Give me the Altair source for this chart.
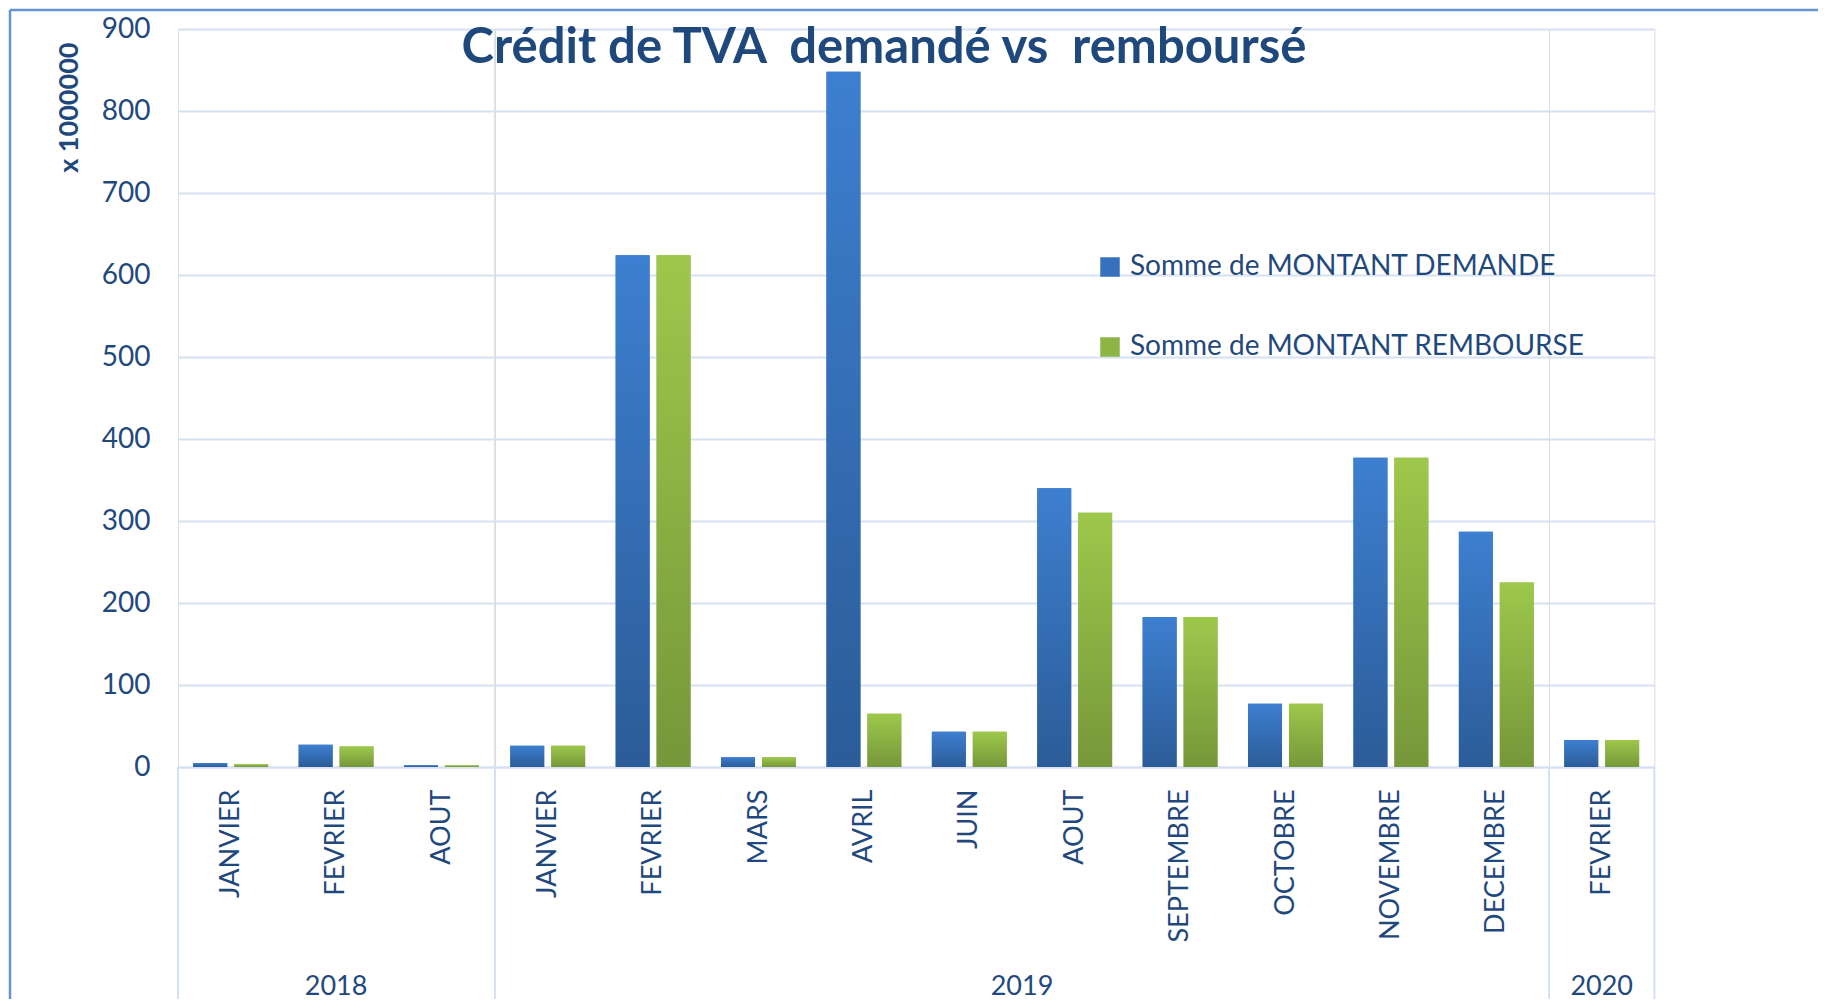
import altair as alt
import pandas as pd

years = ["2018", "2018", "2018",
         "2019", "2019", "2019", "2019", "2019", "2019", "2019", "2019", "2019", "2019",
         "2020"]
months = ["JANVIER", "FEVRIER", "AOUT",
          "JANVIER", "FEVRIER", "MARS", "AVRIL", "JUIN", "AOUT", "SEPTEMBRE", "OCTOBRE", "NOVEMBRE", "DECEMBRE",
          "FEVRIER"]
demande = [5, 27, 2, 26, 624, 12, 848, 43, 340, 183, 77, 377, 287, 33]
rembourse = [3.5, 25, 2, 26, 624, 12, 65, 43, 310, 183, 77, 377, 225, 33]
series = ["Somme de MONTANT DEMANDE", "Somme de MONTANT REMBOURSE"]
month_order = ["JANVIER", "FEVRIER", "MARS", "AVRIL", "MAI", "JUIN", "JUILLET", "AOUT",
               "SEPTEMBRE", "OCTOBRE", "NOVEMBRE", "DECEMBRE"]
y_ticks = [0, 100, 200, 300, 400, 500, 600, 700, 800, 900]

TXT = "#1F497D"
GRID = "#D5E1F2"
FRAME = "#6593CF"
FONT = "Lato"
H = 738
SEP = 232
STEP = 105.4
P_IN, P_OUT = 0.17, 0.373
OFF_STEP = STEP / (2 - P_IN + 2 * P_OUT)
n_last = sum(1 for y in years if y == years[-1])

rows = []
for i, (yr, m) in enumerate(zip(years, months)):
    first = i == 0 or years[i - 1] != yr
    last = i == len(years) - 1
    for s, vals in zip(series, [demande, rembourse]):
        rows.append({"year": yr, "month": m, "series": s, "value": vals[i],
                     "first": first, "last": last, "origin": i == 0})
df = pd.DataFrame(rows)

grad_blue = {"gradient": "linear", "x1": 0, "y1": 0, "x2": 0, "y2": 1,
             "stops": [{"offset": 0, "color": "#3D7FD0"}, {"offset": 1, "color": "#2B5C98"}]}
grad_green = {"gradient": "linear", "x1": 0, "y1": 0, "x2": 0, "y2": 1,
              "stops": [{"offset": 0, "color": "#9DC84B"}, {"offset": 1, "color": "#76973A"}]}

x_enc = alt.X("month:N", sort=month_order,
              scale=alt.Scale(paddingInner=0, paddingOuter=0),
              axis=alt.Axis(title=None, labelAngle=270, labelAlign="right", labelBaseline="middle",
                            labelFontSize=27, labelFont=FONT, labelColor=TXT, labelPadding=22,
                            ticks=False, domainColor=GRID, domainWidth=2, grid=False))
y_scale = alt.Scale(domain=[0, 900], nice=False)
y_enc = alt.Y("value:Q", scale=y_scale,
              axis=alt.Axis(values=y_ticks, title="x 1000000", titleFontWeight="bold",
                            titleFontSize=27, titleFont=FONT, titleColor=TXT, titleAnchor="end",
                            titleY=13, titleAlign="right",
                            titlePadding=18, labelFontSize=28, labelFont=FONT, labelColor=TXT,
                            labelPadding=28, ticks=False, domain=False,
                            gridColor=GRID, gridWidth=2))
xoff = alt.XOffset("series:N", sort=series, scale=alt.Scale(paddingInner=P_IN, paddingOuter=P_OUT))

bars_legend = alt.Chart().mark_bar().encode(
    x=x_enc, y=y_enc, xOffset=xoff,
    color=alt.Color("series:N", scale=alt.Scale(domain=series, range=["#3771BD", "#8CB545"]),
                    legend=alt.Legend(title=None, orient="none", legendX=918, legendY=224,
                                      symbolType="square", symbolSize=380, symbolStrokeWidth=0,
                                      labelFontSize=28, labelFont=FONT, labelColor=TXT,
                                      labelLimit=800, rowPadding=52, labelOffset=6)),
)
bars_grad = alt.Chart().mark_bar().encode(
    x=x_enc, y=y_enc, xOffset=xoff,
    color=alt.condition(f"datum.series == '{series[0]}'", alt.value(grad_blue), alt.value(grad_green)),
)
# year-group separators below the axis (left edge of each year panel, right edge of the last one)
rule_left = alt.Chart().transform_filter(
    f"datum.first && datum.series == '{series[0]}'"
).mark_rule(color=GRID, strokeWidth=2).encode(
    x=alt.value(0), y=alt.value(H), y2=alt.value(H + SEP),
)
rule_right = alt.Chart().transform_filter(
    f"datum.last && datum.series == '{series[0]}'"
).mark_rule(color=GRID, strokeWidth=2).encode(
    x=alt.value(STEP * n_last), y=alt.value(H), y2=alt.value(H + SEP),
)
# slide frame (top and left border of the original picture)
frame_left = alt.Chart().transform_filter(
    f"datum.origin && datum.series == '{series[0]}'"
).mark_rule(color=FRAME, strokeWidth=2.5).encode(
    x=alt.value(-168), y=alt.value(-19), y2=alt.value(H + SEP),
)
frame_top = alt.Chart().transform_filter(
    f"datum.origin && datum.series == '{series[0]}'"
).mark_rule(color=FRAME, strokeWidth=2.5).encode(
    x=alt.value(-168), x2=alt.value(1640), y=alt.value(-19),
)

layer = alt.layer(frame_left, frame_top, bars_legend, bars_grad, rule_left, rule_right).properties(
    width=alt.Step(OFF_STEP), height=H)

chart = layer.facet(
    column=alt.Column("year:N", header=alt.Header(title=None, labelOrient="bottom", labelFontSize=27,
                                                  labelFont=FONT, labelColor=TXT, labelPadding=207)),
    data=df, spacing=0, bounds="flush",
).resolve_scale(x="independent").properties(
    title=alt.TitleParams("Crédit de TVA\u00a0 demandé vs\u00a0 remboursé", fontSize=49, font=FONT,
                          fontWeight="bold", color=TXT, anchor="middle", offset=-65, dx=-30),
    padding={"left": 0, "top": 0, "right": 0, "bottom": 0},
).configure_view(stroke="transparent", strokeWidth=0, strokeOpacity=0).configure(background="white")

chart.save("out.html", embed_options={"renderer": "svg", "actions": False})
